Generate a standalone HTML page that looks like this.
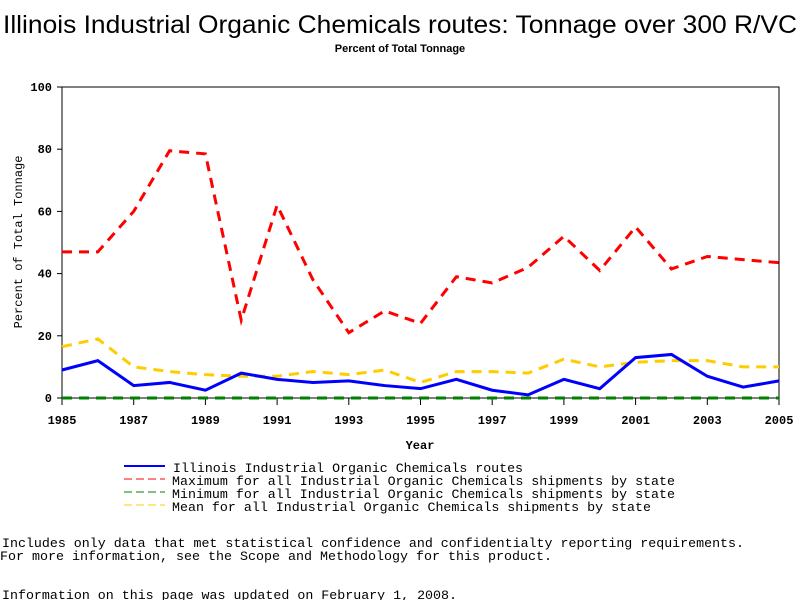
<!DOCTYPE html>
<html><head><meta charset="utf-8"><style>
body{margin:0;background:#fff;width:800px;height:600px;overflow:hidden}
svg text{font-family:"Liberation Sans",sans-serif}
svg text.m, svg .m text{font-family:"Liberation Mono",monospace}
</style></head><body>
<svg id="chart" width="800" height="600" xmlns="http://www.w3.org/2000/svg">
<text x="400" y="33" text-anchor="middle" font-size="25" textLength="794" lengthAdjust="spacingAndGlyphs">Illinois Industrial Organic Chemicals routes: Tonnage over 300 R/VC</text>
<text x="400" y="52" text-anchor="middle" font-size="11" font-weight="bold">Percent of Total Tonnage</text>
<rect x="62" y="87" width="717" height="311" fill="none" stroke="#000"/>
<g id="yticks" class="m"></g>
<g id="xticks" class="m"></g>
<text transform="translate(22,242) rotate(-90)" text-anchor="middle" font-size="12" class="m">Percent of Total Tonnage</text>
<text x="420" y="449" text-anchor="middle" font-size="12" font-weight="bold" class="m">Year</text>
<g id="series"></g>
<g font-size="13" class="m">
<g><line x1="124" y1="466" x2="165" y2="466" stroke="#0000ff" stroke-width="2"/><text x="173" y="472" textLength="350" lengthAdjust="spacingAndGlyphs">Illinois Industrial Organic Chemicals routes</text></g>
<g><line x1="124" y1="479" x2="165" y2="479" stroke="#ff0000" stroke-dasharray="8,4"/><text x="172" y="485" textLength="503" lengthAdjust="spacingAndGlyphs">Maximum for all Industrial Organic Chemicals shipments by state</text></g>
<g><line x1="124" y1="492" x2="165" y2="492" stroke="#008000" stroke-dasharray="8,4"/><text x="172" y="498" textLength="503" lengthAdjust="spacingAndGlyphs">Minimum for all Industrial Organic Chemicals shipments by state</text></g>
<g><line x1="124" y1="505" x2="165" y2="505" stroke="#ffcc00" stroke-dasharray="8,4"/><text x="172" y="511" textLength="479" lengthAdjust="spacingAndGlyphs">Mean for all Industrial Organic Chemicals shipments by state</text></g>
</g>
<g font-size="13" class="m">
<text x="2" y="547" textLength="742" lengthAdjust="spacingAndGlyphs">Includes only data that met statistical confidence and confidentialty reporting requirements.</text>
<text x="0" y="560" textLength="552" lengthAdjust="spacingAndGlyphs">For more information, see the Scope and Methodology for this product.</text>
<text x="2" y="599" textLength="455" lengthAdjust="spacingAndGlyphs">Information on this page was updated on February 1, 2008.</text>
</g>
</svg>
<script>
const years=[1985,1986,1987,1988,1989,1990,1991,1992,1993,1994,1995,1996,1997,1998,1999,2000,2001,2002,2003,2004,2005];
const illinois=[9,12,4,5,2.5,8,6,5,5.5,4,3,6,2.5,1,6,3,13,14,7,3.5,5.5];
const maximum=[47,47,60,79.5,78.5,25,62,38,21,28,24,39,37,42,52,41,55,41.5,45.5,44.5,43.5];
const minimum=[0,0,0,0,0,0,0,0,0,0,0,0,0,0,0,0,0,0,0,0,0];
const mean=[16.5,19,10,8.5,7.5,7,7,8.5,7.5,9,5,8.5,8.5,8,12.5,10,11.5,12,12,10,10];
const yTicks=[0,20,40,60,80,100];
const xTicks=[1985,1987,1989,1991,1993,1995,1997,1999,2001,2003,2005];
const NS="http://www.w3.org/2000/svg";
const X=y=>62+(y-1985)/20*717;
const Y=v=>398-v/100*311;
function mk(t,a){const e=document.createElementNS(NS,t);for(const k in a)e.setAttribute(k,a[k]);return e;}
const yg=document.getElementById('yticks');
yTicks.forEach(v=>{
  const l=mk('line',{x1:57,x2:62,y1:Y(v),y2:Y(v),stroke:'#000'});
  
  
  yg.appendChild(l);
  const t=mk('text',{x:52,y:Y(v)+4,'text-anchor':'end','font-size':12,'font-weight':'bold'});
  
  
  t.textContent=v;yg.appendChild(t);
});
const xg=document.getElementById('xticks');
xTicks.forEach(v=>{
  const l=mk('line',{x1:X(v),x2:X(v),y1:398,y2:405,stroke:'#000'});
  
  
  xg.appendChild(l);
  const t=mk('text',{x:X(v),y:424,'text-anchor':'middle','font-size':12,'font-weight':'bold'});
  
  
  t.textContent=v;xg.appendChild(t);
});
const sg=document.getElementById('series');
function line(d,color,dash,w,name){
  const p=mk('polyline',{points:d.map((v,i)=>X(years[i])+','+Y(v)).join(' '),fill:'none',stroke:color,'stroke-width':w,'stroke-dasharray':dash});
  
  
  sg.appendChild(p);
}
line(minimum,'#008000','10,7',3,'line-minimum');
line(mean,'#ffcc00','10,7',3,'line-mean');
line(maximum,'#ff0000','10,7',3,'line-maximum');
line(illinois,'#0000ff','none',3,'line-illinois');
</script>
</body></html>
